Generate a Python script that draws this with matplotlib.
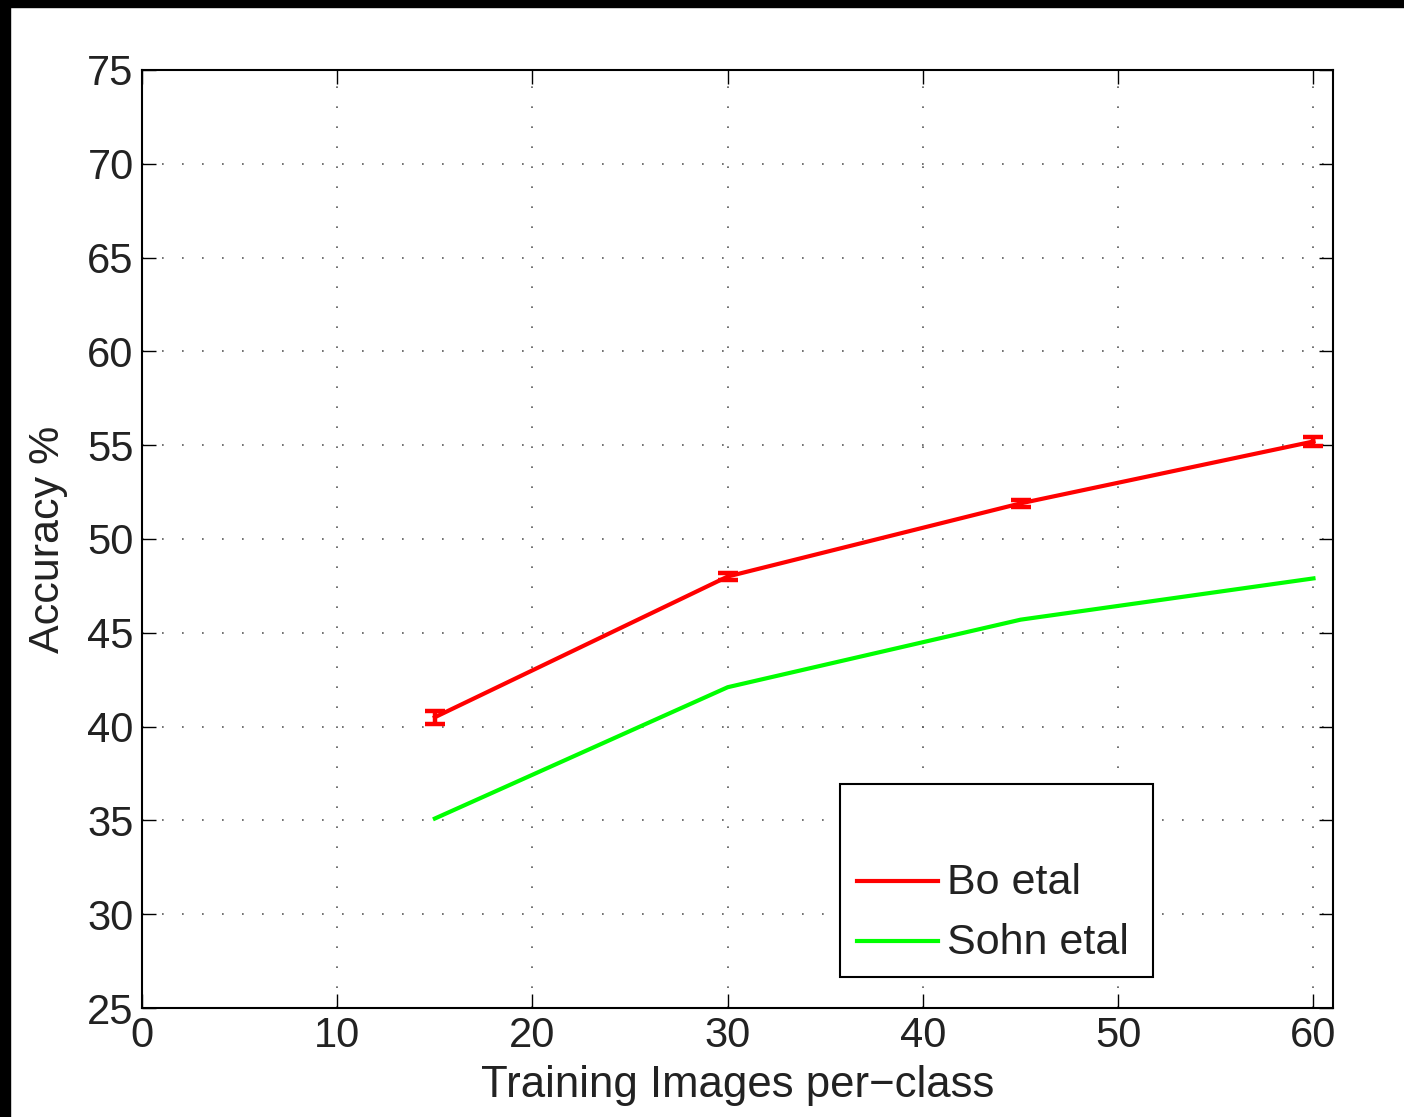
import matplotlib
matplotlib.use("Agg")
import matplotlib.pyplot as plt
from matplotlib.patches import Rectangle
from matplotlib.lines import Line2D

plt.rcParams['font.family'] = ['Liberation Sans', 'DejaVu Sans']

x_vals = [15, 30, 45, 60]
bo_acc = [40.5, 48.0, 51.9, 55.2]
bo_err = [0.35, 0.2, 0.2, 0.25]
sohn_acc = [35.1, 42.1, 45.7, 47.9]
series_names = ["Bo etal", "Sohn etal"]
x_ticks = [0, 10, 20, 30, 40, 50, 60]
y_ticks = [25, 30, 35, 40, 45, 50, 55, 60, 65, 70, 75]

W, H = 1404, 1117
fig = plt.figure(figsize=(W / 100, H / 100), dpi=100)
fig.patch.set_facecolor('white')
# black borders top & left
fig.patches.append(Rectangle((0, 1 - 7 / H), 1, 7 / H, transform=fig.transFigure,
                             color='black', zorder=0))
fig.patches.append(Rectangle((0, 0), 10 / W, 1, transform=fig.transFigure,
                             color='black', zorder=0))

ax = fig.add_axes([142 / W, 1 - 1008 / H, (1333 - 142) / W, (1008 - 70) / H])
ax.set_xlim(0, 61)
ax.set_ylim(25, 75)

ax.errorbar(x_vals, bo_acc, yerr=bo_err, color='#ff0000', lw=3.0, capsize=7,
            capthick=3.2, elinewidth=3.2, zorder=3)
ax.plot(x_vals, sohn_acc, color='#00ff00', lw=3.0, zorder=3)

ax.set_xticks(x_ticks)
ax.set_yticks(y_ticks)
tc = '#222222'
ax.tick_params(direction='in', length=10, width=1, top=True, right=True,
               labelsize=30, colors='black', labelcolor=tc, pad=6)
ax.grid(True, color='0.35', linestyle=(0, (1, 11)), linewidth=1.2)
for s in ax.spines.values():
    s.set_linewidth(1.5)
    s.set_color('black')

ax.set_xlabel("Training Images per\u2212class", fontsize=31.5, color=tc, labelpad=6)
ax.set_ylabel("Accuracy %", fontsize=31, color=tc, labelpad=14)

# legend box drawn manually (MATLAB style with empty top area)
def px2ax(px, py):
    return ((px - 142) / (1333 - 142), (1008 - py) / (1008 - 70))

x0, y0 = px2ax(840, 977)
x1, y1 = px2ax(1153, 784)
ax.add_patch(Rectangle((x0, y0), x1 - x0, y1 - y0, transform=ax.transAxes,
                       facecolor='white', edgecolor='black', lw=1.5, zorder=5))
colors = ['#ff0000', '#00ff00']
for name, c, py in zip(series_names, colors, [881, 941]):
    lx0, ly = px2ax(857, py)
    lx1, _ = px2ax(938, py)
    ax.add_line(Line2D([lx0, lx1], [ly, ly], transform=ax.transAxes, color=c,
                       lw=3.0, zorder=6))
    tx, _ = px2ax(947, py + 2)
    ax.text(tx, ly - 0.002, name, transform=ax.transAxes, fontsize=31, color=tc,
            va='center', ha='left', zorder=6)

fig.savefig("out.png", dpi=100)
